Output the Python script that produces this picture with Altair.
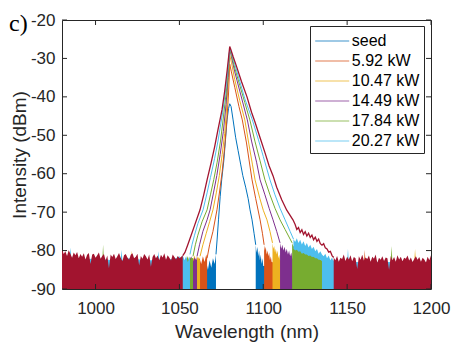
import altair as alt
import pandas as pd

# ---------------- axes ----------------
WL_MIN, WL_MAX = 980, 1200
DB_MIN, DB_MAX = -90, -20
X_TICKS = [1000, 1050, 1100, 1150, 1200]
Y_TICKS = [-90, -80, -70, -60, -50, -40, -30, -20]
PANEL_LABEL = ["c)"]

LEGEND_NAMES = ["seed", "5.92 kW", "10.47 kW", "14.49 kW", "17.84 kW", "20.27 kW"]
COLORS = ["#0072BD", "#D95319", "#EDB120", "#7E2F8E", "#77AC30", "#4DBEEE"]
TOP_COLOR = "#A2142F"

# ---------------- seed ----------------
SEED_WL = [1071.8, 1072.5, 1073.3, 1074.3, 1075.2, 1076.5, 1077.5, 1078.4, 1079.3, 1080, 1080.8, 1082,
           1083.5, 1085, 1086.5, 1087.8, 1089.5, 1091, 1092.1, 1093.3, 1094.5, 1095.5]
SEED_DB = [-81, -77, -72, -66, -61.6, -56.5, -51, -46, -43, -41.8, -42.5, -46,
           -50.5, -54, -57.5, -60.5, -63.5, -66.5, -69.4, -72, -75.5, -78.5]
SEED_NL_WL = [980, 1020, 1050, 1064, 1066, 1067, 1068, 1069, 1070, 1071, 1071.8]
SEED_NL_TOP = [-84, -84, -84, -84, -83, -85, -82.5, -84.5, -82, -83.5, -81]
SEED_NR_WL = [1095.5, 1096, 1096.5, 1097, 1097.5, 1098, 1098.5, 1099, 1099.5, 1100, 1110, 1150, 1200]
SEED_NR_TOP = [-78.5, -80.5, -79, -81.5, -80, -82.5, -81, -83.5, -82, -84, -84, -84, -84]

# ---------------- 5.92 kW ----------------
O_WL = [1066.5, 1068, 1070, 1072.4, 1074, 1075.5, 1077, 1078.3, 1079.3, 1080, 1081, 1083, 1085.5,
        1087.5, 1090, 1093.3, 1095.5, 1098.1, 1099.5, 1100.5]
O_DB = [-82, -78.5, -75, -69.4, -64.5, -59.5, -53, -46, -39, -31.5, -33.5, -37.5, -42.5,
        -46, -52, -61.6, -66.5, -72, -75.5, -78.5]
O_NL_WL = [980, 1020, 1050, 1060, 1062, 1063, 1064, 1065, 1066, 1066.5]
O_NL_TOP = [-83.5, -83.5, -83.5, -83, -82, -83.5, -81.5, -83, -81, -82]
O_NR_WL = [1100.5, 1101, 1101.5, 1102, 1102.5, 1103, 1103.5, 1104, 1104.5, 1105, 1110, 1150,
           1160, 1160.5, 1161, 1200]
O_NR_TOP = [-78.5, -80, -79, -81, -80, -81.5, -80.5, -82.5, -81.5, -83, -83.5, -83.5,
            -83.5, -79.8, -83.5, -83.5]

# ---------------- 10.47 kW ----------------
Y_WL = [1062.3, 1064, 1066, 1068, 1070, 1072, 1073.8, 1075.5, 1077, 1078.3, 1079.3, 1080, 1081, 1083,
        1086, 1089, 1091.5, 1093.5, 1095.1, 1098, 1100, 1102.2, 1104, 1105.5]
Y_DB = [-81.5, -78.5, -75.5, -72.5, -69.4, -65, -60.5, -55, -49.5, -42, -35, -29.2, -31, -35.5,
        -41, -46, -52.5, -57.5, -61.6, -66.5, -69.5, -72, -75, -78]
Y_NL_WL = [980, 1020, 1021, 1021.5, 1022, 1050, 1058, 1059, 1060, 1061, 1062, 1062.3]
Y_NL_TOP = [-83, -83, -83, -80, -83, -83, -82.5, -81.3, -82.8, -81.5, -82.5, -81.5]
Y_NR_WL = [1105.5, 1106, 1106.5, 1107, 1107.5, 1108, 1108.5, 1109, 1109.5, 1110, 1115, 1150,
           1190, 1190.5, 1191, 1200]
Y_NR_TOP = [-78, -79.5, -78.8, -80.5, -79.5, -81, -80, -82, -81, -82.5, -83, -83,
            -83, -79.6, -83, -83]

# ---------------- 14.49 kW ----------------
P_WL = [1060.5, 1062, 1064, 1066.5, 1068.3, 1070.3, 1072.3, 1074.3, 1076.2, 1077.8, 1079, 1080, 1081,
        1083, 1086, 1090.5, 1093, 1096, 1098.1, 1101, 1103.5, 1105.8, 1108, 1110]
P_DB = [-81.5, -78.5, -75, -72, -69.4, -65, -60.5, -55, -49, -42, -35, -27.3, -29.5,
        -33.5, -38.5, -46, -51.5, -57, -61.6, -65.5, -69, -72, -75, -78]
P_NL_WL = [980, 1020, 1050, 1056, 1057, 1058, 1059, 1060, 1060.5]
P_NL_TOP = [-83, -83, -83, -82.5, -81.5, -83, -81.8, -82.5, -81.5]
P_NR_WL = [1110, 1110.7, 1111.4, 1112, 1112.7, 1113.4, 1114, 1114.7, 1115.4, 1116, 1116.7, 1117.3,
           1120, 1150, 1200]
P_NR_TOP = [-78, -79.5, -78.5, -80, -79, -80.5, -79.5, -81, -80, -81.5, -80.5, -82, -83, -83, -83]

# ---------------- 17.84 kW ----------------
G_WL = [1058.1, 1059.5, 1061, 1063.5, 1066.5, 1068.5, 1070.5, 1072.5, 1074.5, 1076.3, 1078, 1079.2,
        1080, 1081, 1083, 1086, 1089, 1092, 1095, 1098, 1101, 1104, 1107, 1110, 1113, 1116, 1117.2]
G_DB = [-81.5, -78.5, -76, -72.5, -69.4, -65.5, -61.5, -57, -51.5, -45, -38.5, -32.5,
        -27.6, -29, -32.5, -37, -41.5, -46, -51.5, -56.5, -61.6, -65.5, -69, -72, -74.5, -77, -78]
G_NL_WL = [980, 1000, 1004, 1004.5, 1005, 1020, 1040, 1050, 1054, 1055, 1056, 1057, 1058.1]
G_NL_TOP = [-82.5, -83, -83, -78.5, -83, -82.5, -83, -82.5, -82.5, -81.5, -83, -81.8, -82]
G_NR_WL = [1117.2, 1118, 1119, 1120, 1121, 1122, 1123, 1124, 1125, 1126, 1127, 1128, 1129, 1130,
           1131, 1132, 1133, 1134, 1135, 1136, 1140, 1170, 1176, 1176.5, 1177, 1200]
G_NR_TOP = [-78, -79, -77.8, -79.5, -78.5, -80, -78.8, -80.3, -79.2, -80.8, -79.6, -81.2, -80.2,
            -81.6, -80.8, -82, -81.2, -82.5, -81.8, -83, -83, -83, -83, -78.8, -83, -83]

# ---------------- 20.27 kW ----------------
L_WL = [1056.3, 1057.5, 1059, 1061, 1064.1, 1066.5, 1068.5, 1071, 1073, 1075.8, 1077.5, 1079, 1080,
        1081, 1083, 1086, 1089, 1093.5, 1097, 1100, 1104, 1107, 1110, 1113, 1116, 1118]
L_DB = [-81, -78.5, -76, -73, -69.4, -65, -61, -56, -51.5, -44, -38.5, -32.5, -27.5,
        -28.5, -31.5, -36, -40.5, -46, -51, -55.5, -61.6, -65.5, -69, -72, -75, -77]
L_NL_WL = [980, 984.5, 985, 985.5, 990, 1000, 1010, 1015, 1015.5, 1016, 1020, 1030, 1037, 1037.5,
           1038, 1040, 1048, 1050, 1051, 1052, 1053, 1054, 1055, 1056, 1056.3]
L_NL_TOP = [-81.5, -82, -79.2, -82, -82.5, -82, -82.5, -82.5, -79.8, -82.5, -82, -82.5, -82.5, -80.2,
            -82.5, -82.5, -82, -81.5, -82.8, -81.2, -82.5, -81.5, -83, -81.8, -81.5]
L_BAND_WL = [1118, 1119, 1120, 1121, 1122, 1123, 1124, 1125, 1126, 1127, 1128, 1129, 1130, 1131,
             1132, 1133, 1134, 1135]
L_BAND_TOP = [-77, -77.8, -76.8, -78, -77.2, -78.4, -77.6, -78.8, -78, -79.2, -78.5, -79.6, -79,
              -80.2, -79.6, -80.8, -80.2, -81]
L_BAND_LOW = [-79.5, -80, -79.8, -80.3, -80.2, -80.8, -80.6, -81, -81, -81.4, -81.3, -81.7, -81.6,
              -82, -82, -82.4, -82.4, -82.8]
L_NR_WL = [1135, 1136, 1137, 1138, 1139, 1140, 1141, 1141.6, 1145, 1150, 1150.5, 1151, 1170, 1200]
L_NR_TOP = [-81, -81.5, -80.8, -82, -81.3, -82.5, -81.8, -82.5, -83, -83, -79.5, -83, -83, -83]

# ---------------- top (dark red) trace ----------------
DR_WL = [1052, 1053.3, 1055, 1057, 1059, 1062.3, 1064.5, 1066.5, 1069, 1071, 1073, 1075.4, 1077, 1078.5,
         1079.5, 1080, 1080.6, 1082, 1084, 1087, 1090.3, 1093, 1095, 1098, 1101, 1103.5, 1105.8, 1108,
         1111, 1114, 1117.7, 1119, 1120, 1121, 1122, 1123, 1124, 1125, 1126, 1127, 1128, 1129, 1130,
         1131, 1132, 1133, 1134, 1135, 1136, 1137, 1138, 1139, 1140, 1141, 1142]
DR_DB = [-81.3, -80.5, -78.5, -76, -73.5, -69.4, -65.5, -61.6, -57, -53, -48.5, -43.4, -38.5, -33,
         -29, -26.9, -27.6, -29.5, -32, -36, -40, -44, -46.5, -50.5, -54.5, -58, -60.5, -63.5,
         -66.8, -69.5, -72, -73.2, -74.5, -74, -75.3, -74.6, -75.8, -75.1, -76.2, -75.5, -76.6, -76, -77.2,
         -76.5, -77.6, -77, -78.2, -78.6, -78.2, -79.3, -79.6, -80.4, -80.2, -81.3, -81.8]
DR_NL_WL = [980, 981, 982, 983, 984, 985, 986, 987, 988, 989,
            990, 991, 992, 993, 994, 995, 996, 997, 998, 999,
            1000, 1001, 1002, 1003, 1004, 1005, 1006, 1007, 1008, 1009,
            1010, 1011, 1012, 1013, 1014, 1015, 1016, 1017, 1018, 1019,
            1020, 1021, 1022, 1023, 1024, 1025, 1026, 1027, 1028, 1029,
            1030, 1031, 1032, 1033, 1034, 1035, 1036, 1037, 1038, 1039,
            1040, 1041, 1042, 1043, 1044, 1045, 1046, 1047, 1048, 1049,
            1050, 1051, 1052]
DR_NL_TOP = [-79.6, -80.9, -80.2, -81.4, -79.9, -80.8, -81.9, -80.5, -81.2, -80.4,
             -82.0, -80.9, -81.6, -80.7, -82.3, -81.1, -80.6, -83.5, -81.0, -80.8,
             -81.9, -81.2, -80.5, -82.1, -81.4, -80.9, -82.6, -81.3, -84.6, -81.0,
             -81.7, -80.8, -82.2, -81.5, -80.6, -81.9, -82.8, -81.2, -80.9, -81.8,
             -82.4, -81.1, -80.7, -82.0, -81.6, -80.8, -83.9, -81.4, -82.1, -80.9,
             -81.5, -82.3, -81.0, -84.2, -81.7, -80.9, -82.0, -81.3, -82.5, -81.1,
             -81.8, -80.7, -82.4, -81.2, -81.9, -82.6, -81.0, -81.7, -82.3, -81.4,
             -82.0, -81.6, -81.3]
DR_NR_WL = [1142, 1143, 1144, 1145, 1146, 1147, 1148, 1149, 1150, 1151,
            1152, 1153, 1154, 1155, 1156, 1157, 1158, 1159, 1160, 1161,
            1162, 1163, 1164, 1165, 1166, 1167, 1168, 1169, 1170, 1171,
            1172, 1173, 1174, 1175, 1176, 1177, 1178, 1179, 1180, 1181,
            1182, 1183, 1184, 1185, 1186, 1187, 1188, 1189, 1190, 1191,
            1192, 1193, 1194, 1195, 1196, 1197, 1198, 1199, 1200]
DR_NR_TOP = [-81.8, -82.5, -81.4, -82.9, -81.9, -82.2, -81.0, -82.7, -81.6, -82.3,
             -81.2, -82.8, -81.7, -82.0, -84.8, -81.5, -82.4, -81.1, -82.6, -81.8,
             -82.2, -81.3, -82.9, -81.6, -82.1, -81.0, -83.2, -81.9, -82.4, -81.5,
             -82.7, -81.8, -82.0, -85.0, -81.4, -82.5, -81.7, -82.9, -81.2, -82.3,
             -81.6, -82.8, -81.9, -82.1, -81.3, -82.6, -81.8, -83.0, -82.2, -81.5,
             -82.4, -81.7, -82.9, -81.9, -82.3, -83.1, -81.6, -82.5, -81.2]

W, H = 369, 269
AXIS_COLOR = "#262626"

x_enc = alt.X("wl:Q", scale=alt.Scale(domain=[WL_MIN, WL_MAX], nice=False, zero=False),
              axis=alt.Axis(values=X_TICKS, title="Wavelength (nm)", labelPadding=11, titlePadding=6,
                            labelFlush=False, labelExpr="'' + datum.value"))
y_enc = alt.Y("top:Q", scale=alt.Scale(domain=[DB_MIN, DB_MAX], nice=False, zero=False),
              axis=alt.Axis(values=Y_TICKS, title="Intensity (dBm)", labelPadding=7,
                            labelFlush=False, labelExpr="'' + datum.value",
                            titleX=-33, titleY=H / 2, titleAngle=270, titleBaseline="bottom",
                            titleAlign="center"))

color_scale = alt.Scale(domain=LEGEND_NAMES, range=COLORS)
legend = alt.Legend(title=None, orient="none", legendX=248, legendY=6, direction="vertical",
                    symbolType="M-1,0H2.47", symbolSize=384, symbolStrokeWidth=1.5, symbolOpacity=0.5,
                    labelFont="Liberation Sans", labelFontSize=16, labelColor="black", labelOffset=15.8,
                    rowPadding=1, padding=4, strokeColor=AXIS_COLOR, fillColor="white")


def area_df(wl, top, low=None, seg="a"):
    if low is None:
        low = [DB_MIN] * len(wl)
    return pd.DataFrame({"wl": wl, "top": top, "low": low, "seg": seg})


def series_layers(name, color, line_wl, line_db, areas, in_legend=True):
    adf = pd.concat(areas, ignore_index=True)
    area = alt.Chart(adf).mark_area(color=color, clip=True, opacity=1, interpolate="linear").encode(
        x=x_enc, y=y_enc, y2="low:Q", detail="seg:N")
    ldf = pd.DataFrame({"wl": line_wl, "top": line_db, "series": name})
    if in_legend:
        line = alt.Chart(ldf).mark_line(strokeWidth=1, clip=True).encode(
            x=x_enc, y=y_enc, color=alt.Color("series:N", scale=color_scale, legend=legend))
    else:
        line = alt.Chart(ldf).mark_line(strokeWidth=1.3, clip=True, color=color).encode(x=x_enc, y=y_enc)
    return [area, line]


layers = []
layers += series_layers("seed", COLORS[0], SEED_WL, SEED_DB,
                        [area_df(SEED_NL_WL, SEED_NL_TOP, seg="L"), area_df(SEED_NR_WL, SEED_NR_TOP, seg="R")])
layers += series_layers("5.92 kW", COLORS[1], O_WL, O_DB,
                        [area_df(O_NL_WL, O_NL_TOP, seg="L"), area_df(O_NR_WL, O_NR_TOP, seg="R")])
layers += series_layers("10.47 kW", COLORS[2], Y_WL, Y_DB,
                        [area_df(Y_NL_WL, Y_NL_TOP, seg="L"), area_df(Y_NR_WL, Y_NR_TOP, seg="R")])
layers += series_layers("14.49 kW", COLORS[3], P_WL, P_DB,
                        [area_df(P_NL_WL, P_NL_TOP, seg="L"), area_df(P_NR_WL, P_NR_TOP, seg="R")])
layers += series_layers("17.84 kW", COLORS[4], G_WL, G_DB,
                        [area_df(G_NL_WL, G_NL_TOP, seg="L"), area_df(G_NR_WL, G_NR_TOP, seg="R")])
layers += series_layers("20.27 kW", COLORS[5], L_WL, L_DB,
                        [area_df(L_NL_WL, L_NL_TOP, seg="L"),
                         area_df(L_BAND_WL, L_BAND_TOP, L_BAND_LOW, seg="B"),
                         area_df(L_NR_WL, L_NR_TOP, seg="R")])
layers += series_layers("top", TOP_COLOR, DR_WL, DR_DB,
                        [area_df(DR_NL_WL, DR_NL_TOP, seg="L"), area_df(DR_NR_WL, DR_NR_TOP, seg="R")],
                        in_legend=False)

# inward ticks on all four sides
xt = pd.DataFrame({"wl": X_TICKS})
yt = pd.DataFrame({"top": Y_TICKS})
layers += [
    alt.Chart(xt).mark_rule(color=AXIS_COLOR).encode(x=x_enc, y=alt.value(H), y2=alt.value(H - 5)),
    alt.Chart(xt).mark_rule(color=AXIS_COLOR).encode(x=x_enc, y=alt.value(0), y2=alt.value(5)),
    alt.Chart(yt).mark_rule(color=AXIS_COLOR).encode(y=y_enc, x=alt.value(0), x2=alt.value(5)),
    alt.Chart(yt).mark_rule(color=AXIS_COLOR).encode(y=y_enc, x=alt.value(W), x2=alt.value(W - 5)),
]

# panel label
layers.append(
    alt.Chart(pd.DataFrame({"t": PANEL_LABEL})).mark_text(
        font="Liberation Serif", fontSize=24, align="left", baseline="alphabetic", color="black"
    ).encode(text="t:N", x=alt.value(-53), y=alt.value(11))
)

chart = alt.layer(*layers).properties(
    width=W, height=H,
    autosize=alt.AutoSizeParams(type="none"),
    padding={"left": 54, "top": 12, "right": 30, "bottom": 58},
).configure_view(
    stroke=AXIS_COLOR, strokeWidth=1
).configure_axis(
    domain=False, ticks=False, grid=False,
    labelFont="Liberation Sans", labelFontSize=17, labelColor=AXIS_COLOR,
    titleFont="Liberation Sans", titleFontSize=19, titleFontWeight="normal", titleColor=AXIS_COLOR,
)

chart.save("out.html", embed_options={"renderer": "svg", "actions": False})
